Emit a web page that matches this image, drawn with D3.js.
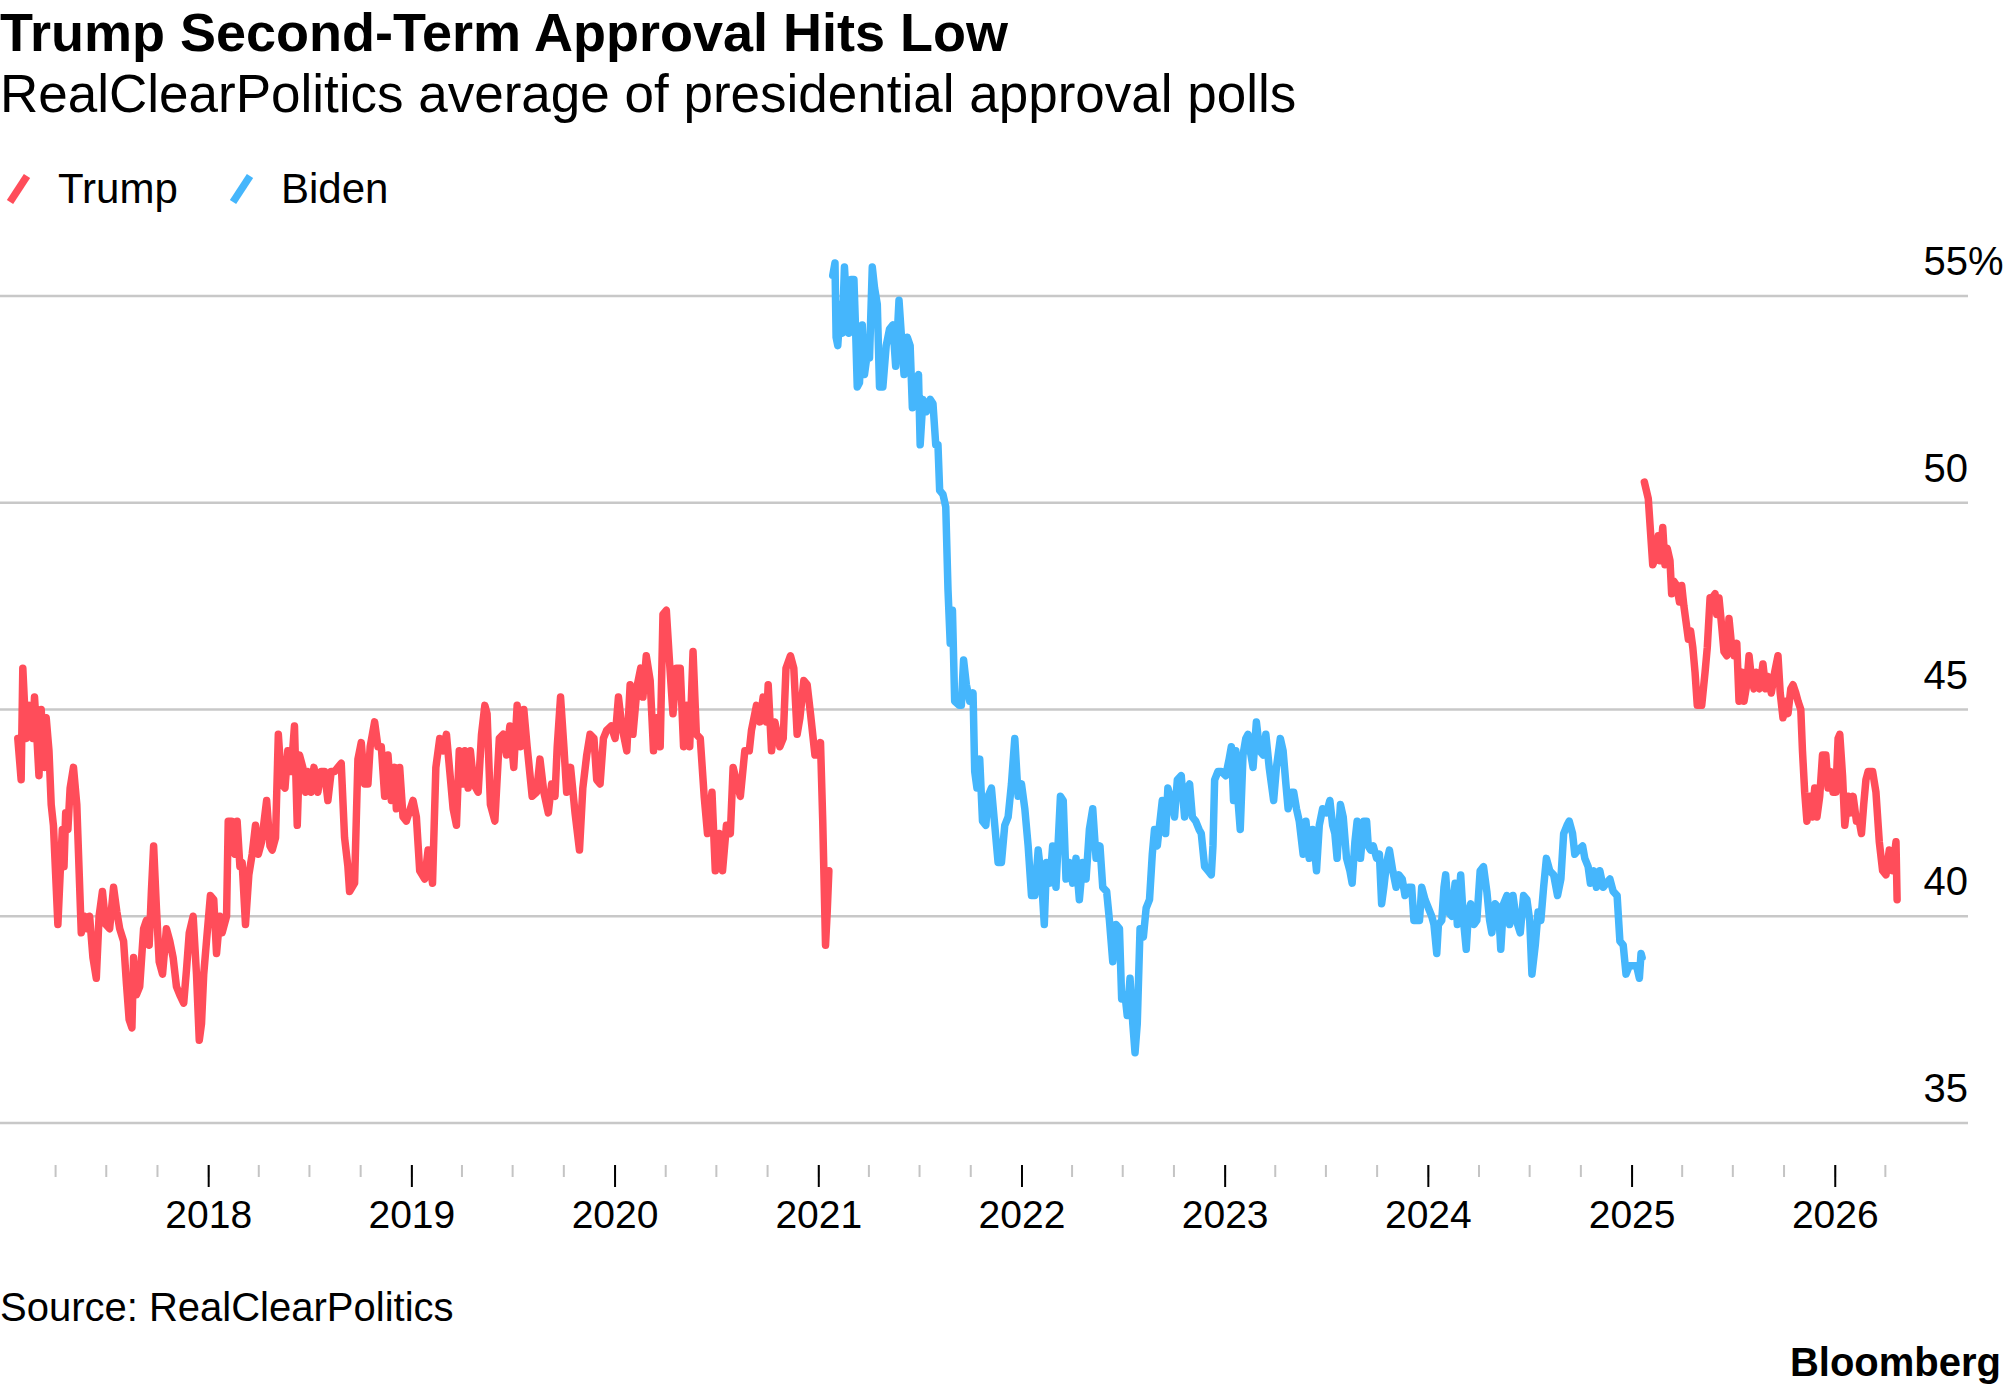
<!DOCTYPE html>
<html>
<head>
<meta charset="utf-8">
<script src="https://cdn.jsdelivr.net/npm/d3@7"></script>
<style>
  body { margin: 0; background: #fff; }
  text { font-family: "Liberation Sans", Arial, sans-serif; fill: #000; }
</style>
</head>
<body>
<div id="chart"></div>
<script>
// RealClearPolitics average: [date, approval %]
var trumpFirst = [
  ["2017-01-24",44.3],["2017-01-27",43.8],["2017-01-30",43.3],["2017-02-02",46.0],["2017-02-08",44.3],
  ["2017-02-14",45.1],["2017-02-20",44.3],["2017-02-23",45.3],["2017-02-27",44.4],["2017-03-03",43.4],
  ["2017-03-07",45.0],["2017-03-13",43.6],["2017-03-16",44.8],["2017-03-21",44.0],["2017-03-25",42.7],
  ["2017-03-29",42.2],["2017-04-02",41.0],["2017-04-06",39.8],["2017-04-10",41.0],["2017-04-14",42.1],
  ["2017-04-17",41.2],["2017-04-20",42.5],["2017-04-24",42.1],["2017-04-28",43.1],["2017-05-04",43.6],
  ["2017-05-10",42.7],["2017-05-18",39.6],["2017-05-24",40.0],["2017-05-28",39.7],["2017-06-02",40.0],
  ["2017-06-08",39.0],["2017-06-14",38.5],["2017-06-19",40.0],["2017-06-25",40.6],["2017-07-01",39.8],
  ["2017-07-08",39.7],["2017-07-15",40.7],["2017-07-21",40.1],["2017-07-26",39.7],["2017-08-02",39.4],
  ["2017-08-07",38.4],["2017-08-12",37.5],["2017-08-17",37.3],["2017-08-20",39.0],["2017-08-25",38.1],
  ["2017-08-31",38.3],["2017-09-07",39.7],["2017-09-12",39.9],["2017-09-17",39.3],["2017-09-21",40.6],
  ["2017-09-25",41.7],["2017-09-30",40.2],["2017-10-05",38.9],["2017-10-11",38.6],["2017-10-18",39.7],
  ["2017-10-24",39.4],["2017-10-30",39.0],["2017-11-05",38.3],["2017-11-11",38.1],["2017-11-18",37.9],
  ["2017-11-23",38.7],["2017-11-28",39.6],["2017-12-05",40.0],["2017-12-11",38.6],["2017-12-16",37.0],
  ["2017-12-20",37.4],["2017-12-24",38.6],["2017-12-29",39.4],["2018-01-05",40.5],["2018-01-11",40.4],
  ["2018-01-16",39.1],["2018-01-22",40.0],["2018-01-26",39.6],["2018-02-03",40.0],["2018-02-06",42.3],
  ["2018-02-12",42.3],["2018-02-18",41.5],["2018-02-22",42.3],["2018-02-27",41.2],["2018-03-03",41.3],
  ["2018-03-09",39.8],["2018-03-15",41.0],["2018-03-21",41.5],["2018-03-27",42.2],["2018-04-01",41.5],
  ["2018-04-07",41.8],["2018-04-16",42.8],["2018-04-22",41.7],["2018-04-26",41.6],["2018-05-02",41.9],
  ["2018-05-07",44.4],["2018-05-13",43.2],["2018-05-19",43.1],["2018-05-24",44.0],["2018-05-30",43.5],
  ["2018-06-05",44.6],["2018-06-10",42.2],["2018-06-14",43.9],["2018-06-20",43.6],["2018-06-25",43.0],
  ["2018-06-29",43.5],["2018-07-05",43.0],["2018-07-10",43.6],["2018-07-17",43.0],["2018-07-23",43.5],
  ["2018-07-29",43.5],["2018-08-04",42.8],["2018-08-10",43.5],["2018-08-16",43.5],["2018-08-22",43.6],
  ["2018-08-28",43.7],["2018-09-03",41.9],["2018-09-09",41.2],["2018-09-12",40.6],["2018-09-21",40.8],
  ["2018-09-27",43.8],["2018-10-03",44.2],["2018-10-09",43.2],["2018-10-15",43.2],["2018-10-19",44.1],
  ["2018-10-27",44.7],["2018-11-02",44.1],["2018-11-08",44.1],["2018-11-14",42.9],["2018-11-20",43.9],
  ["2018-11-26",42.8],["2018-12-02",43.6],["2018-12-05",42.6],["2018-12-11",43.6],["2018-12-17",42.4],
  ["2018-12-23",42.3],["2019-01-04",42.8],["2019-01-10",42.4],["2019-01-16",41.1],["2019-01-25",40.9],
  ["2019-01-31",41.6],["2019-02-08",40.8],["2019-02-14",43.6],["2019-02-21",44.3],["2019-02-27",44.0],
  ["2019-03-05",44.4],["2019-03-11",43.5],["2019-03-17",42.6],["2019-03-23",42.2],["2019-03-28",44.0],
  ["2019-04-03",43.2],["2019-04-07",44.0],["2019-04-13",43.1],["2019-04-17",44.0],["2019-04-23",43.2],
  ["2019-05-01",43.0],["2019-05-07",44.4],["2019-05-13",45.1],["2019-05-17",44.9],["2019-05-23",42.7],
  ["2019-05-31",42.3],["2019-06-08",44.3],["2019-06-15",44.4],["2019-06-21",43.9],["2019-06-27",44.6],
  ["2019-07-04",43.6],["2019-07-10",45.1],["2019-07-16",44.1],["2019-07-22",45.0],["2019-07-28",44.1],
  ["2019-08-06",42.9],["2019-08-14",43.0],["2019-08-20",43.8],["2019-08-27",43.0],["2019-09-04",42.5],
  ["2019-09-10",43.2],["2019-09-16",42.9],["2019-09-20",44.1],["2019-09-26",45.3],["2019-10-02",44.1],
  ["2019-10-07",43.0],["2019-10-14",43.6],["2019-10-22",42.5],["2019-10-30",41.6],["2019-11-05",43.1],
  ["2019-11-12",43.9],["2019-11-18",44.4],["2019-11-25",44.3],["2019-11-30",43.3],["2019-12-06",43.2],
  ["2019-12-12",44.3],["2019-12-18",44.5],["2019-12-26",44.6],["2020-01-02",44.3],["2020-01-08",45.3],
  ["2020-01-14",44.6],["2020-01-23",44.0],["2020-01-29",45.6],["2020-02-03",44.4],["2020-02-11",45.6],
  ["2020-02-17",46.0],["2020-02-21",45.3],["2020-02-27",46.3],["2020-03-05",45.7],["2020-03-11",44.0],
  ["2020-03-17",44.8],["2020-03-23",44.1],["2020-03-28",47.3],["2020-04-03",47.4],["2020-04-09",46.1],
  ["2020-04-15",44.9],["2020-04-21",46.0],["2020-04-28",46.0],["2020-05-04",44.1],["2020-05-10",45.1],
  ["2020-05-15",44.1],["2020-05-21",46.4],["2020-05-27",44.4],["2020-06-03",44.3],["2020-06-10",42.9],
  ["2020-06-16",42.0],["2020-06-24",43.0],["2020-06-30",41.1],["2020-07-07",42.0],["2020-07-13",41.1],
  ["2020-07-20",42.2],["2020-07-27",42.0],["2020-08-01",43.6],["2020-08-08",43.2],["2020-08-14",42.9],
  ["2020-08-22",44.0],["2020-08-30",44.0],["2020-09-03",44.5],["2020-09-12",45.1],["2020-09-18",44.7],
  ["2020-09-24",45.3],["2020-09-30",44.7],["2020-10-03",45.6],["2020-10-09",44.0],["2020-10-15",44.7],
  ["2020-10-24",44.1],["2020-10-30",44.3],["2020-11-04",46.0],["2020-11-12",46.3],["2020-11-18",46.0],
  ["2020-11-24",44.4],["2020-11-29",44.8],["2020-12-06",45.7],["2020-12-12",45.6],["2020-12-18",44.9],
  ["2020-12-26",43.9],["2021-01-01",43.9],["2021-01-05",44.2],["2021-01-09",42.3],["2021-01-14",39.3],
  ["2021-01-17",40.1],["2021-01-20",41.1]
];

var biden = [
  ["2021-01-27",55.5],["2021-01-31",55.8],["2021-02-02",54.0],["2021-02-05",53.8],["2021-02-10",54.8],
  ["2021-02-13",54.1],["2021-02-17",55.7],["2021-02-22",54.5],["2021-02-25",54.1],["2021-03-01",55.4],
  ["2021-03-06",55.4],["2021-03-09",54.2],["2021-03-12",52.8],["2021-03-16",52.9],["2021-03-21",54.3],
  ["2021-03-25",53.1],["2021-03-30",53.6],["2021-04-03",53.5],["2021-04-08",55.7],["2021-04-12",55.2],
  ["2021-04-17",54.8],["2021-04-21",52.8],["2021-04-27",52.8],["2021-05-03",53.8],["2021-05-09",54.2],
  ["2021-05-15",54.3],["2021-05-20",53.3],["2021-05-26",54.9],["2021-05-30",54.1],["2021-06-04",53.1],
  ["2021-06-10",54.0],["2021-06-15",53.8],["2021-06-19",52.3],["2021-06-25",52.9],["2021-06-30",53.1],
  ["2021-07-03",51.4],["2021-07-08",52.5],["2021-07-14",52.2],["2021-07-21",52.5],["2021-07-26",52.4],
  ["2021-07-31",51.4],["2021-08-04",51.4],["2021-08-07",50.3],["2021-08-13",50.2],["2021-08-18",49.9],
  ["2021-08-22",47.9],["2021-08-26",46.6],["2021-08-30",47.4],["2021-09-03",45.2],["2021-09-11",45.1],
  ["2021-09-15",45.1],["2021-09-19",46.2],["2021-09-24",45.6],["2021-09-30",45.2],["2021-10-06",45.4],
  ["2021-10-09",43.5],["2021-10-13",43.1],["2021-10-18",43.8],["2021-10-23",42.3],["2021-10-29",42.2],
  ["2021-11-02",42.9],["2021-11-08",43.1],["2021-11-14",42.2],["2021-11-20",41.3],["2021-11-26",41.3],
  ["2021-12-02",42.2],["2021-12-08",42.4],["2021-12-14",43.2],["2021-12-20",44.3],["2021-12-26",42.9],
  ["2022-01-01",43.2],["2022-01-07",42.6],["2022-01-13",41.7],["2022-01-19",40.5],["2022-01-25",40.5],
  ["2022-01-31",41.6],["2022-02-06",40.9],["2022-02-11",39.8],["2022-02-15",41.3],["2022-02-21",40.8],
  ["2022-02-26",41.7],["2022-03-04",40.7],["2022-03-08",41.8],["2022-03-12",42.9],["2022-03-17",42.8],
  ["2022-03-22",40.9],["2022-03-28",41.3],["2022-04-03",40.8],["2022-04-09",41.4],["2022-04-15",40.4],
  ["2022-04-21",41.3],["2022-04-27",40.9],["2022-05-03",42.1],["2022-05-09",42.6],["2022-05-15",41.4],
  ["2022-05-22",41.7],["2022-05-27",40.7],["2022-06-03",40.6],["2022-06-08",39.9],["2022-06-14",38.9],
  ["2022-06-20",39.8],["2022-06-26",39.7],["2022-06-30",38.0],["2022-07-06",38.1],["2022-07-10",37.6],
  ["2022-07-15",38.5],["2022-07-20",37.4],["2022-07-24",36.7],["2022-07-28",37.4],["2022-08-02",39.7],
  ["2022-08-08",39.5],["2022-08-13",40.2],["2022-08-19",40.4],["2022-08-24",41.5],["2022-08-28",42.1],
  ["2022-09-02",41.7],["2022-09-06",42.2],["2022-09-11",42.8],["2022-09-17",42.0],["2022-09-21",43.1],
  ["2022-09-27",42.8],["2022-10-03",42.4],["2022-10-08",43.3],["2022-10-15",43.4],["2022-10-21",42.4],
  ["2022-10-26",43.1],["2022-10-30",43.2],["2022-11-04",42.4],["2022-11-10",42.3],["2022-11-16",42.1],
  ["2022-11-20",42.0],["2022-11-26",41.2],["2022-12-02",41.1],["2022-12-08",41.0],["2022-12-11",41.7],
  ["2022-12-14",43.3],["2022-12-20",43.5],["2022-12-26",43.5],["2023-01-03",43.4],["2023-01-09",43.8],
  ["2023-01-13",44.1],["2023-01-17",42.8],["2023-01-21",44.0],["2023-01-25",42.8],["2023-01-29",42.1],
  ["2023-02-03",43.9],["2023-02-08",44.3],["2023-02-12",44.4],["2023-02-16",44.0],["2023-02-21",43.6],
  ["2023-02-27",44.7],["2023-03-05",44.0],["2023-03-11",43.9],["2023-03-16",44.4],["2023-03-22",43.6],
  ["2023-03-26",43.2],["2023-03-30",42.8],["2023-04-04",43.6],["2023-04-11",44.3],["2023-04-16",44.0],
  ["2023-04-21",43.2],["2023-04-25",42.6],["2023-05-01",43.0],["2023-05-05",43.0],["2023-05-10",42.6],
  ["2023-05-15",42.3],["2023-05-22",41.5],["2023-05-27",42.3],["2023-06-02",41.4],["2023-06-08",42.1],
  ["2023-06-15",41.1],["2023-06-20",42.2],["2023-06-26",42.6],["2023-07-03",42.5],["2023-07-09",42.8],
  ["2023-07-14",42.2],["2023-07-18",42.0],["2023-07-22",41.4],["2023-07-28",42.7],["2023-08-02",42.4],
  ["2023-08-08",41.4],["2023-08-14",41.1],["2023-08-18",40.8],["2023-08-23",41.8],["2023-08-27",42.3],
  ["2023-09-02",41.4],["2023-09-08",42.3],["2023-09-13",42.3],["2023-09-16",41.7],["2023-09-20",41.6],
  ["2023-09-25",41.7],["2023-10-01",41.4],["2023-10-06",41.5],["2023-10-10",40.3],["2023-10-14",40.7],
  ["2023-10-19",41.3],["2023-10-24",41.6],["2023-10-30",41.1],["2023-11-05",40.7],["2023-11-10",41.0],
  ["2023-11-16",40.9],["2023-11-21",40.5],["2023-11-27",40.7],["2023-12-03",40.7],["2023-12-07",39.9],
  ["2023-12-12",39.9],["2023-12-17",39.9],["2023-12-21",40.7],["2023-12-27",40.4],["2024-01-02",40.2],
  ["2024-01-08",40.0],["2024-01-12",39.8],["2024-01-17",39.1],["2024-01-20",39.8],["2024-01-26",39.9],
  ["2024-01-30",40.7],["2024-02-02",41.0],["2024-02-07",40.1],["2024-02-13",40.0],["2024-02-19",40.8],
  ["2024-02-23",39.8],["2024-02-29",41.0],["2024-03-05",39.9],["2024-03-10",39.2],["2024-03-14",40.1],
  ["2024-03-18",40.3],["2024-03-24",39.8],["2024-03-29",39.9],["2024-04-04",41.1],["2024-04-10",41.2],
  ["2024-04-16",40.6],["2024-04-21",39.9],["2024-04-25",39.6],["2024-05-01",40.3],["2024-05-07",40.2],
  ["2024-05-11",39.2],["2024-05-16",40.3],["2024-05-22",40.5],["2024-05-27",39.8],["2024-06-02",40.5],
  ["2024-06-08",39.9],["2024-06-15",39.6],["2024-06-21",40.5],["2024-06-27",40.4],["2024-07-02",39.9],
  ["2024-07-06",38.6],["2024-07-12",39.3],["2024-07-17",40.1],["2024-07-22",39.9],["2024-07-27",40.7],
  ["2024-08-01",41.4],["2024-08-07",41.1],["2024-08-14",41.0],["2024-08-21",40.5],["2024-08-27",40.9],
  ["2024-09-01",42.0],["2024-09-07",42.2],["2024-09-11",42.3],["2024-09-17",42.0],["2024-09-21",41.5],
  ["2024-09-27",41.6],["2024-10-05",41.7],["2024-10-09",41.4],["2024-10-15",41.2],["2024-10-19",40.8],
  ["2024-10-25",41.1],["2024-10-30",40.7],["2024-11-05",41.1],["2024-11-11",40.7],["2024-11-17",40.8],
  ["2024-11-23",40.9],["2024-11-29",40.6],["2024-12-06",40.5],["2024-12-11",39.4],["2024-12-17",39.3],
  ["2024-12-22",38.6],["2024-12-28",38.8],["2025-01-04",38.8],["2025-01-10",38.8],["2025-01-15",38.5],
  ["2025-01-18",39.1],["2025-01-20",39.0]
];

var trumpSecond = [
  ["2025-01-24",50.5],["2025-01-31",50.1],["2025-02-04",49.3],["2025-02-08",48.5],["2025-02-14",48.7],
  ["2025-02-18",49.2],["2025-02-21",48.6],["2025-02-26",49.4],["2025-03-02",48.5],["2025-03-06",48.9],
  ["2025-03-11",48.6],["2025-03-14",47.8],["2025-03-18",48.1],["2025-03-23",48.0],["2025-03-28",47.6],
  ["2025-04-01",48.0],["2025-04-05",47.5],["2025-04-10",47.0],["2025-04-13",46.7],["2025-04-17",46.9],
  ["2025-04-21",46.5],["2025-04-25",45.9],["2025-04-29",45.1],["2025-05-07",45.1],["2025-05-13",45.9],
  ["2025-05-17",46.5],["2025-05-22",47.7],["2025-05-26",47.7],["2025-05-31",47.8],["2025-06-03",47.3],
  ["2025-06-07",47.7],["2025-06-12",47.0],["2025-06-16",46.4],["2025-06-21",46.3],["2025-06-25",47.2],
  ["2025-06-30",46.5],["2025-07-04",46.3],["2025-07-09",46.6],["2025-07-13",45.2],["2025-07-18",45.9],
  ["2025-07-22",45.2],["2025-07-27",45.6],["2025-07-31",46.3],["2025-08-04",45.8],["2025-08-09",45.5],
  ["2025-08-13",45.9],["2025-08-19",45.5],["2025-08-25",46.1],["2025-08-30",45.5],["2025-09-03",45.8],
  ["2025-09-09",45.4],["2025-09-15",45.9],["2025-09-21",46.3],["2025-09-25",45.4],["2025-09-30",44.8],
  ["2025-10-05",45.2],["2025-10-09",44.9],["2025-10-14",45.5],["2025-10-18",45.6],["2025-10-23",45.4],
  ["2025-10-27",45.2],["2025-11-01",45.0],["2025-11-04",44.0],["2025-11-08",43.0],["2025-11-12",42.3],
  ["2025-11-17",42.9],["2025-11-22",42.4],["2025-11-26",43.1],["2025-11-30",42.4],["2025-12-05",42.9],
  ["2025-12-10",43.9],["2025-12-16",43.9],["2025-12-20",43.1],["2025-12-24",43.5],["2025-12-29",43.0],
  ["2026-01-03",43.0],["2026-01-07",44.3],["2026-01-10",44.4],["2026-01-15",43.4],["2026-01-19",42.2],
  ["2026-01-25",42.9],["2026-01-29",42.5],["2026-02-03",42.9],["2026-02-09",42.3],["2026-02-14",42.3],
  ["2026-02-18",42.0],["2026-02-22",42.7],["2026-02-26",43.3],["2026-03-02",43.5],["2026-03-10",43.5],
  ["2026-03-16",43.0],["2026-03-22",41.8],["2026-03-28",41.1],["2026-04-03",41.0],["2026-04-09",41.6],
  ["2026-04-15",41.1],["2026-04-21",41.8],["2026-04-23",40.4]
];

var yTicks = [35, 40, 45, 50, 55];
var yearTicks = ["2018","2019","2020","2021","2022","2023","2024","2025","2026"];
var legendNames = ["Trump", "Biden"];
var red = "#ff4d5a", blue = "#45b6fc";

var svgWidth = 2005, svgHeight = 1392;
var parse = d3.timeParse("%Y-%m-%d");

function toPoints(arr) {
  return arr.map(function(d) { return { date: parse(d[0]), value: d[1] }; });
}

var svg = d3.select("#chart").append("svg")
  .attr("width", svgWidth)
  .attr("height", svgHeight);

svg.append("rect").attr("width", svgWidth).attr("height", svgHeight).attr("fill", "#fff");

var x = d3.scaleTime()
  .domain([new Date(2017, 0, 1), new Date(2026, 3, 30)])
  .range([5, 1901]);
var y = d3.scaleLinear().domain([35, 55]).range([1123, 296]);

// titles
svg.append("text").attr("x", 0).attr("y", 51)
  .attr("font-size", 54).attr("font-weight", "bold")
  .text("Trump Second-Term Approval Hits Low");
svg.append("text").attr("x", 0).attr("y", 112)
  .attr("font-size", 53)
  .text("RealClearPolitics average of presidential approval polls");

// legend
var legend = svg.append("g").attr("transform", "translate(0,203)");
[[0, red], [223, blue]].forEach(function(l, i) {
  var g = legend.append("g").attr("transform", "translate(" + l[0] + ",0)");
  g.append("line")
    .attr("x1", 10).attr("y1", -1).attr("x2", 27).attr("y2", -27)
    .attr("stroke", l[1]).attr("stroke-width", 7.5);
  g.append("text").attr("x", 58).attr("y", 0)
    .attr("font-size", 42).text(legendNames[i]);
});

// horizontal grid + right labels
svg.append("g").selectAll("line")
  .data(yTicks).enter().append("line")
  .attr("x1", 0).attr("x2", 1968)
  .attr("y1", function(d) { return y(d); })
  .attr("y2", function(d) { return y(d); })
  .attr("stroke", "#c8c8c8").attr("stroke-width", 2.5);

svg.append("g").selectAll("text")
  .data(yTicks).enter().append("text")
  .attr("x", 1968)
  .attr("y", function(d) { return y(d) - 21; })
  .attr("text-anchor", "end")
  .attr("font-size", 40)
  .text(function(d) { return d; });
svg.append("text").attr("x", 1968).attr("y", y(55) - 21)
  .attr("font-size", 40).text("%");

// x axis: quarterly minor ticks, yearly major ticks with labels
var minorTicks = d3.timeMonth.every(3).range(new Date(2017, 3, 1), new Date(2026, 3, 2));
svg.append("g")
  .attr("transform", "translate(0,1165)")
  .call(d3.axisBottom(x).tickValues(minorTicks).tickSize(12).tickFormat(""))
  .call(function(g) { g.select(".domain").remove(); })
  .call(function(g) { g.selectAll(".tick line").attr("stroke", "#c4c4c4").attr("stroke-width", 2); });

var xAxis = svg.append("g")
  .attr("transform", "translate(0,1165)")
  .call(d3.axisBottom(x)
    .tickValues(yearTicks.map(function(t) { return new Date(+t, 0, 1); }))
    .tickSize(22).tickPadding(13)
    .tickFormat(d3.timeFormat("%Y")));
xAxis.select(".domain").remove();
xAxis.selectAll(".tick line").attr("stroke", "#000").attr("stroke-width", 2);
xAxis.selectAll(".tick text")
  .attr("font-size", 39)
  .attr("font-family", "'Liberation Sans', Arial, sans-serif")
  .attr("fill", "#000");

// lines
var line = d3.line()
  .x(function(d) { return x(d.date); })
  .y(function(d) { return y(d.value); });

[[trumpFirst, red], [biden, blue], [trumpSecond, red]].forEach(function(s) {
  svg.append("path")
    .datum(toPoints(s[0]))
    .attr("fill", "none")
    .attr("stroke", s[1])
    .attr("stroke-width", 7.5)
    .attr("stroke-linejoin", "round")
    .attr("stroke-linecap", "round")
    .attr("d", line);
});

// footer
svg.append("text").attr("x", 0).attr("y", 1321)
  .attr("font-size", 40).text("Source: RealClearPolitics");
svg.append("text").attr("x", 2001).attr("y", 1376)
  .attr("text-anchor", "end")
  .attr("font-size", 40).attr("font-weight", "bold")
  .text("Bloomberg");
</script>
</body>
</html>
